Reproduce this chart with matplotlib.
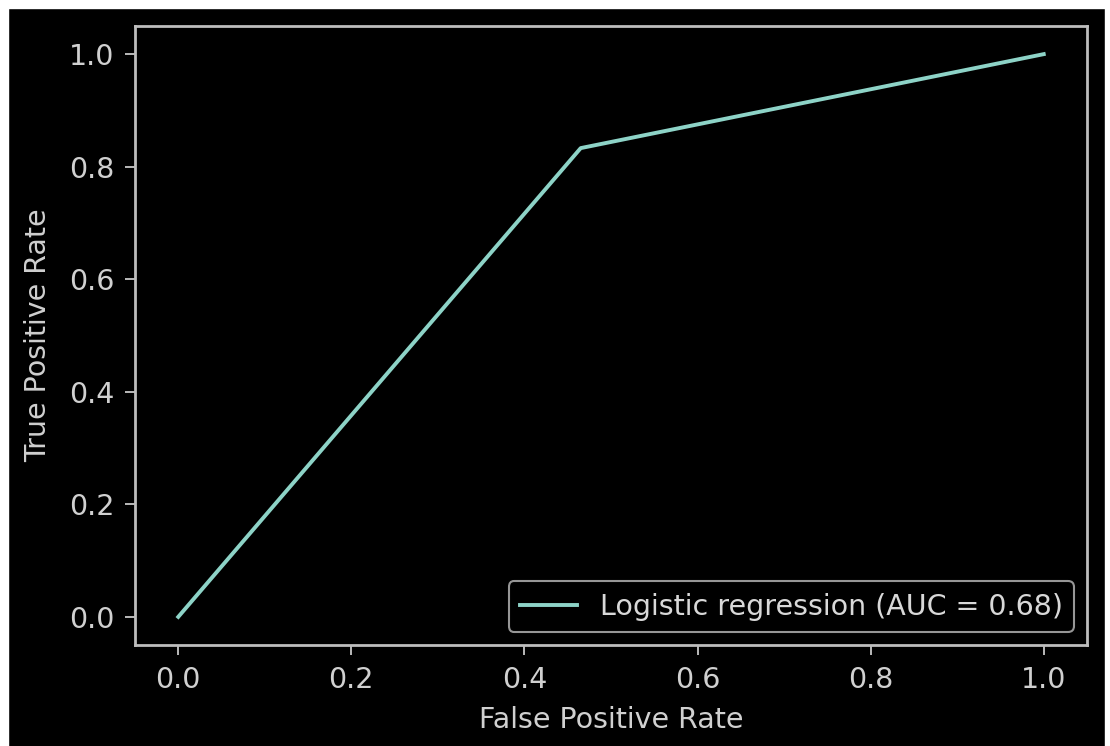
import matplotlib
matplotlib.use("Agg")
import matplotlib.pyplot as plt
from matplotlib.patches import Rectangle

# ROC curve points
fpr = [0.0, 0.465, 1.0]
tpr = [0.0, 0.833, 1.0]
auc_label = "Logistic regression (AUC = 0.68)"
ticks = [0.0, 0.2, 0.4, 0.6, 0.8, 1.0]

plt.style.use("dark_background")
plt.rcParams["font.size"] = 20.5

fig = plt.figure(figsize=(11.1, 7.46), dpi=100)
# white screenshot margins
fig.patches.append(Rectangle((0, 1 - 8 / 746), 1, 8 / 746, transform=fig.transFigure,
                             color="white", zorder=10))
fig.patches.append(Rectangle((0, 0), 8 / 1110, 1, transform=fig.transFigure,
                             color="white", zorder=10))
fig.patches.append(Rectangle((1 - 5 / 1110, 0), 5 / 1110, 1, transform=fig.transFigure,
                             color="white", zorder=10))

ax = fig.add_axes([135 / 1110, 101 / 746, (1087 - 135) / 1110, (720 - 101) / 746])
ax.plot(fpr, tpr, color="#8dd3c7", lw=2.8, label=auc_label)

ax.set_xlabel("False Positive Rate", color="#d0d0d0", labelpad=9)
ax.set_ylabel("True Positive Rate", color="#d0d0d0", labelpad=12)
ax.set_xticks(ticks)
ax.set_yticks(ticks)
ax.tick_params(colors="#c8c8c8", labelcolor="#d0d0d0", length=7, width=1.3, pad=8)
for s in ax.spines.values():
    s.set_color("#bdbdbd")
    s.set_linewidth(2)

leg = ax.legend(loc="lower right", fontsize=20.5, borderaxespad=0.45)
for t in leg.get_texts():
    t.set_color("#d8d8d8")
leg.get_frame().set_edgecolor("#bdbdbd")
leg.get_frame().set_linewidth(1.5)

fig.savefig("out.png", dpi=100)
